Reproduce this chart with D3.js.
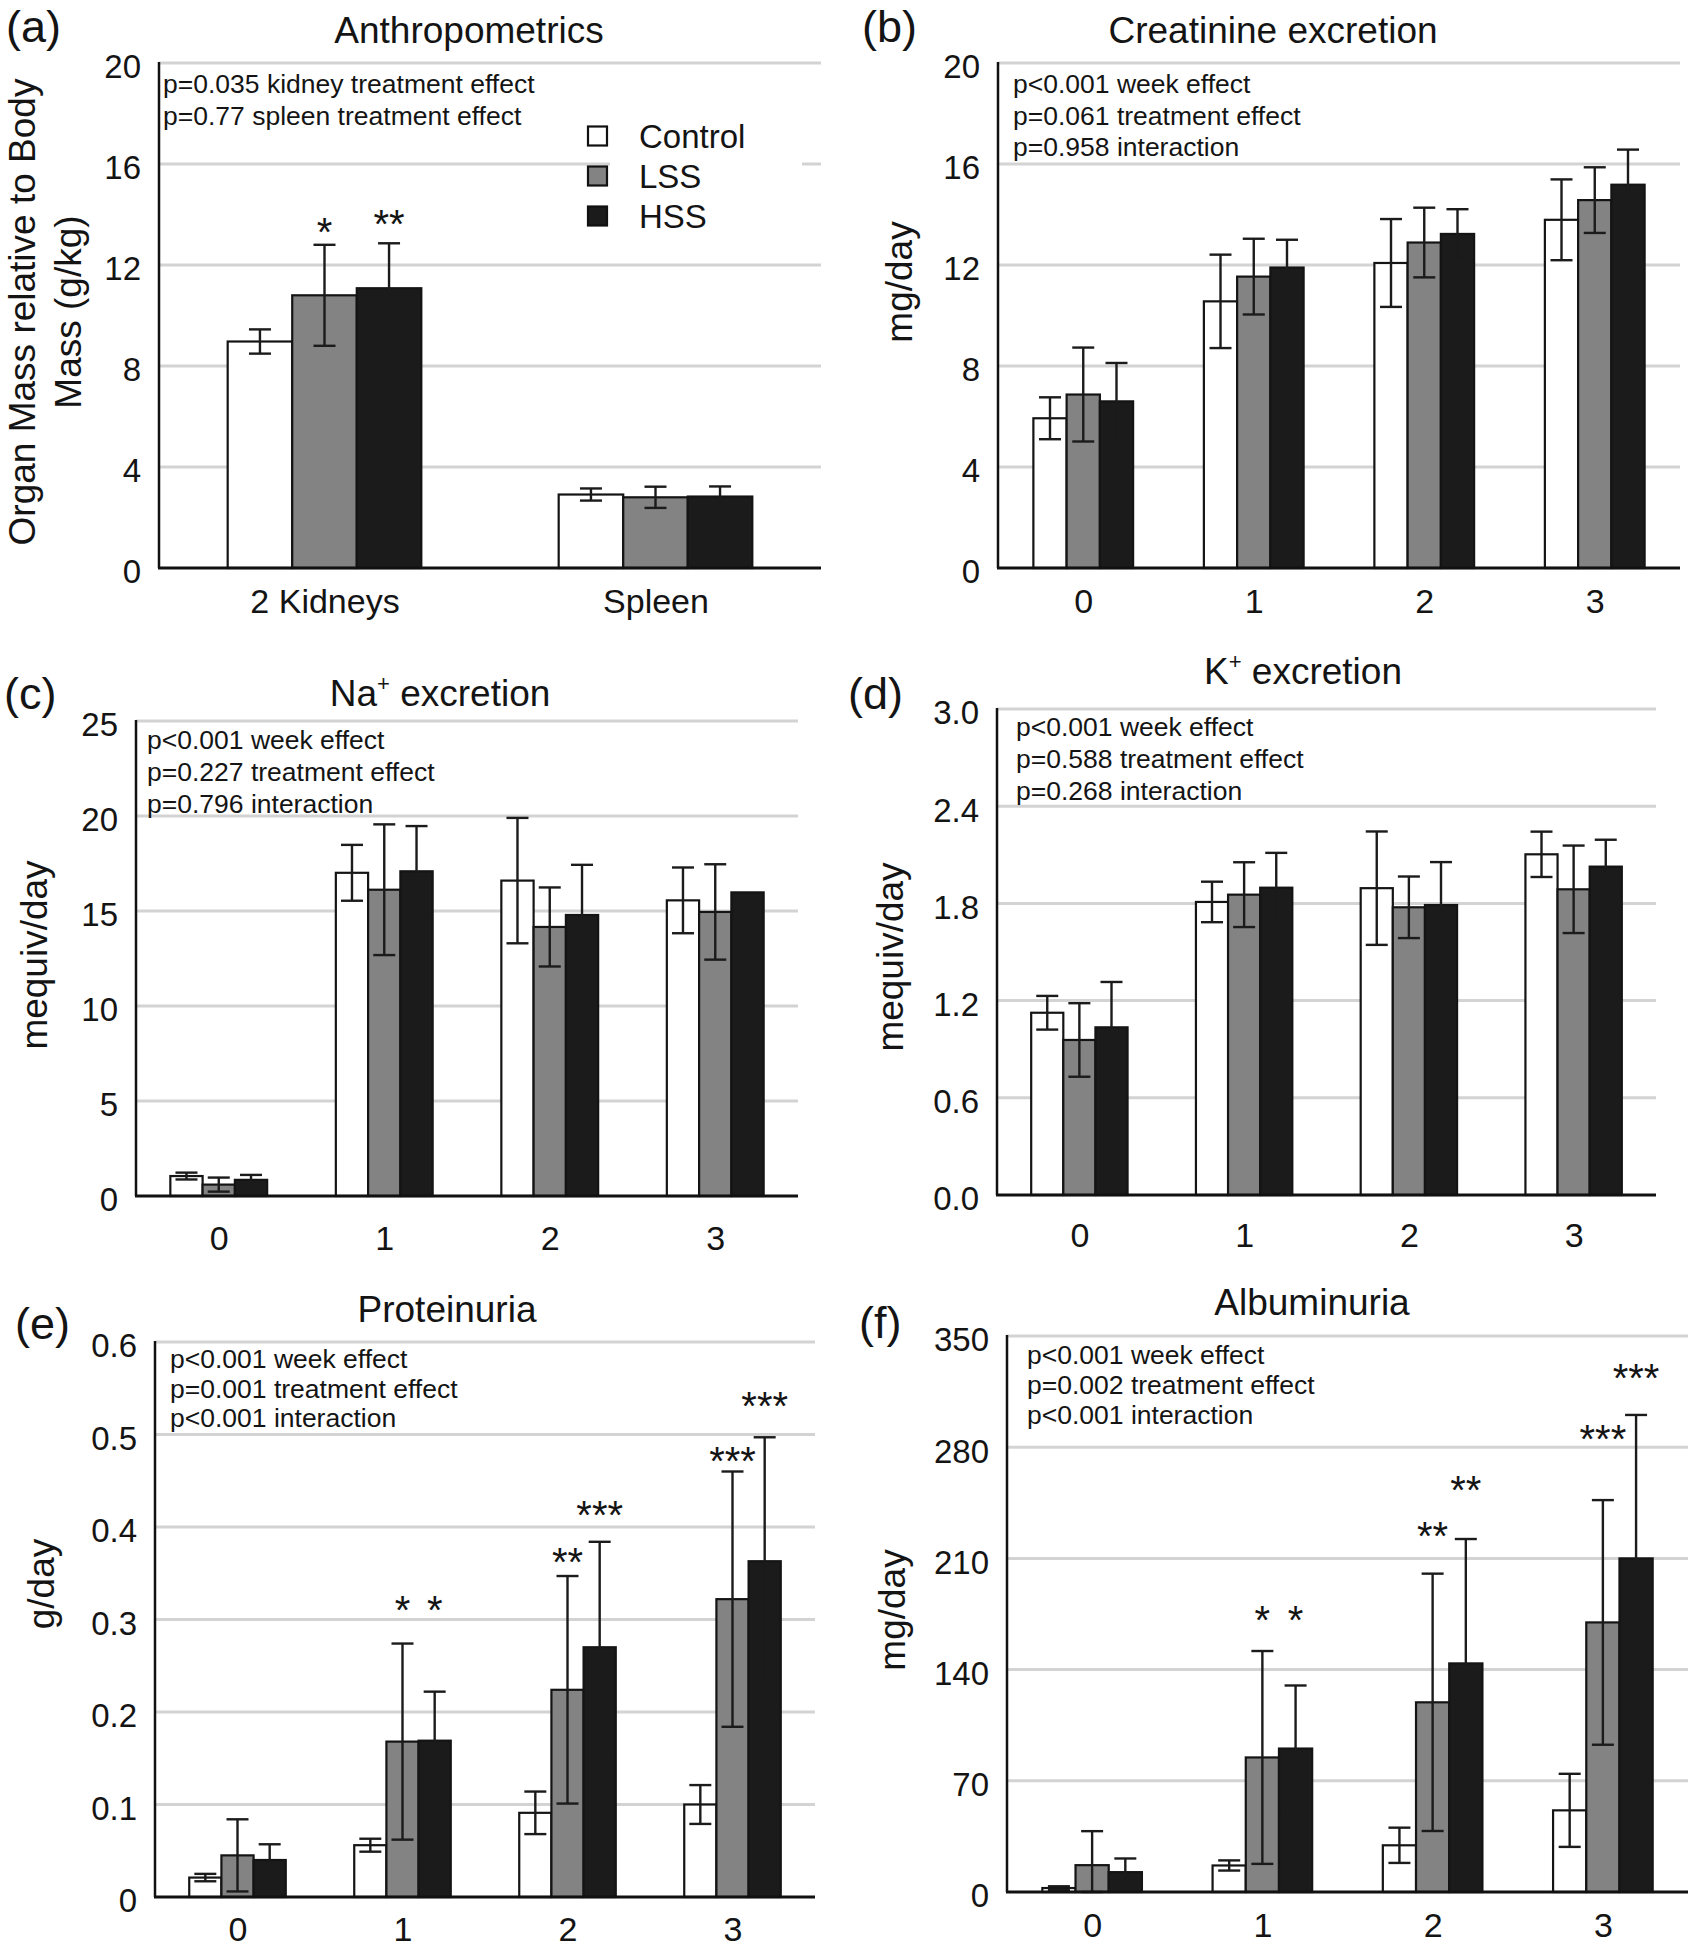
<!DOCTYPE html>
<html><head><meta charset="utf-8">
<script src="https://cdn.jsdelivr.net/npm/d3@7"></script>
<style>
body{margin:0;background:#fff}
svg{display:block}
text{font-family:"Liberation Sans",Arial,Helvetica,sans-serif;fill:#141414}
</style>
</head><body>
<svg id="chart" width="1695" height="1950"></svg>
<script>
// ---------- data ----------
const treatments = ["Control", "LSS", "HSS"];
const fills = ["#ffffff", "#838383", "#1b1b1b"];

// (a) Anthropometrics
const organCats = ["2 Kidneys", "Spleen"];
const organControl = [8.97, 2.91], organControlErr = [0.48, 0.24];
const organLSS = [10.8, 2.80], organLSSErr = [2.0, 0.42];
const organHSS = [11.08, 2.83], organHSSErr = [1.78, 0.40];
const organTicks = [0, 4, 8, 12, 16, 20];
const organStars = [{cat: "2 Kidneys", t: 1, v: 13.66, s: "*"}, {cat: "2 Kidneys", t: 2, v: 13.99, s: "**"}];
const organP = ["p=0.035 kidney treatment effect", "p=0.77 spleen treatment effect"];

const weeks = ["0", "1", "2", "3"];

// (b) Creatinine excretion
const creatControl = [5.93, 10.56, 12.08, 13.79], creatControlErr = [0.83, 1.85, 1.74, 1.60];
const creatLSS = [6.87, 11.54, 12.89, 14.57], creatLSSErr = [1.86, 1.50, 1.38, 1.30];
const creatHSS = [6.60, 11.90, 13.23, 15.18], creatHSSErr = [1.52, 1.10, 0.98, 1.39];
const creatTicks = [0, 4, 8, 12, 16, 20];
const creatP = ["p<0.001 week effect", "p=0.061 treatment effect", "p=0.958 interaction"];

// (c) Na+ excretion
const naControl = [1.05, 17.01, 16.60, 15.56], naControlErr = [0.18, 1.47, 3.30, 1.73];
const naLSS = [0.60, 16.12, 14.16, 14.95], naLSSErr = [0.37, 3.44, 2.08, 2.51];
const naHSS = [0.85, 17.09, 14.79, 15.98], naHSSErr = [0.26, 2.38, 2.64, null];
const naTicks = [0, 5, 10, 15, 20, 25];
const naP = ["p<0.001 week effect", "p=0.227 treatment effect", "p=0.796 interaction"];

// (d) K+ excretion
const kControl = [1.125, 1.809, 1.894, 2.103], kControlErr = [0.104, 0.125, 0.350, 0.140];
const kLSS = [0.957, 1.854, 1.776, 1.887], kLSSErr = [0.227, 0.200, 0.190, 0.270];
const kHSS = [1.035, 1.897, 1.790, 2.027], kHSSErr = [0.280, 0.215, 0.265, 0.166];
const kTicks = [0, 0.6, 1.2, 1.8, 2.4, 3.0];
const kP = ["p<0.001 week effect", "p=0.588 treatment effect", "p=0.268 interaction"];

// (e) Proteinuria
const protControl = [0.021, 0.056, 0.091, 0.100], protControlErr = [0.004, 0.007, 0.023, 0.021];
const protLSS = [0.045, 0.168, 0.224, 0.322], protLSSErr = [0.039, 0.106, 0.123, 0.138];
const protHSS = [0.040, 0.169, 0.270, 0.363], protHSSErr = [0.017, 0.053, 0.114, 0.134];
const protTicks = [0, 0.1, 0.2, 0.3, 0.4, 0.5, 0.6];
const protStars = [
  {cat: "1", t: 1, v: 0.320, s: "*"}, {cat: "1", t: 2, v: 0.320, s: "*"},
  {cat: "2", t: 1, v: 0.372, s: "**"}, {cat: "2", t: 2, v: 0.423, s: "***"},
  {cat: "3", t: 1, v: 0.481, s: "***"}, {cat: "3", t: 2, v: 0.541, s: "***"}];
const protP = ["p<0.001 week effect", "p=0.001 treatment effect", "p<0.001 interaction"];

// (f) Albuminuria
const albControl = [2.5, 16.7, 29.4, 51.4], albControlErr = [1.1, 3.2, 11.1, 23.0];
const albLSS = [16.9, 84.7, 119.4, 169.7], albLSSErr = [21.4, 67.0, 81.0, 77.0];
const albHSS = [12.5, 90.3, 143.9, 210.0], albHSSErr = [8.6, 39.7, 78.3, 90.3];
const albTicks = [0, 70, 140, 210, 280, 350];
const albStars = [
  {cat: "1", t: 1, v: 177, s: "*"}, {cat: "1", t: 2, v: 177, s: "*"},
  {cat: "2", t: 1, v: 230, s: "**"}, {cat: "2", t: 2, v: 259, s: "**"},
  {cat: "3", t: 1, v: 291, s: "***"}, {cat: "3", t: 2, v: 329, s: "***"}];
const albP = ["p<0.001 week effect", "p=0.002 treatment effect", "p<0.001 interaction"];

// ---------- layout ----------
const svg = d3.select("#chart");
const fmt1 = d => d === 0 ? "0" : d3.format(".1f")(d);
const fmtK = d => d3.format(".1f")(d);

const panels = [
  {letter: "(a)", lx: 6, ly: 42, title: ["Anthropometrics"], tx: 469, ty: 43,
   cats: organCats, means: [organControl, organLSS, organHSS], errs: [organControlErr, organLSSErr, organHSSErr],
   ticks: organTicks, fmt: d3.format("d"), x0: 159, x1: 821, yTop: 63, yBot: 568, catDy: 45,
   ylab: ["Organ Mass relative to Body", "Mass (g/kg)"], ylx: [35, 81], yly: 312,
   p: organP, px: 163, py: 93, pdy: 32, stars: organStars, legend: true},
  {letter: "(b)", lx: 862, ly: 42, title: ["Creatinine excretion"], tx: 1273, ty: 43,
   cats: weeks, means: [creatControl, creatLSS, creatHSS], errs: [creatControlErr, creatLSSErr, creatHSSErr],
   ticks: creatTicks, fmt: d3.format("d"), x0: 998, x1: 1680, yTop: 63, yBot: 568, catDy: 45,
   ylab: ["mg/day"], ylx: [912], yly: 282, p: creatP, px: 1013, py: 93, pdy: 31.5, stars: []},
  {letter: "(c)", lx: 4, ly: 709, title: ["Na", "+", " excretion"], tx: 440, ty: 706,
   cats: weeks, means: [naControl, naLSS, naHSS], errs: [naControlErr, naLSSErr, naHSSErr],
   ticks: naTicks, fmt: d3.format("d"), x0: 136, x1: 798, yTop: 721, yBot: 1196, catDy: 54,
   ylab: ["mequiv/day"], ylx: [47], yly: 955, p: naP, px: 147, py: 749, pdy: 32, stars: []},
  {letter: "(d)", lx: 848, ly: 709, title: ["K", "+", " excretion"], tx: 1303, ty: 684,
   cats: weeks, means: [kControl, kLSS, kHSS], errs: [kControlErr, kLSSErr, kHSSErr],
   ticks: kTicks, fmt: fmtK, x0: 997, x1: 1656, yTop: 709, yBot: 1195, catDy: 52,
   ylab: ["mequiv/day"], ylx: [903], yly: 957, p: kP, px: 1016, py: 736, pdy: 32, stars: []},
  {letter: "(e)", lx: 15, ly: 1339, title: ["Proteinuria"], tx: 447, ty: 1322,
   cats: weeks, means: [protControl, protLSS, protHSS], errs: [protControlErr, protLSSErr, protHSSErr],
   ticks: protTicks, fmt: fmt1, x0: 155, x1: 815, yTop: 1342, yBot: 1897, catDy: 44,
   ylab: ["g/day"], ylx: [54], yly: 1584, p: protP, px: 170, py: 1368, pdy: 29.5, stars: protStars},
  {letter: "(f)", lx: 859, ly: 1338, title: ["Albuminuria"], tx: 1312, ty: 1315,
   cats: weeks, means: [albControl, albLSS, albHSS], errs: [albControlErr, albLSSErr, albHSSErr],
   ticks: albTicks, fmt: d3.format("d"), x0: 1007, x1: 1688, yTop: 1336, yBot: 1892, catDy: 45,
   ylab: ["mg/day"], ylx: [905], yly: 1610, p: albP, px: 1027, py: 1364, pdy: 30, stars: albStars}
];

function drawPanel(cfg) {
  const g = svg.append("g");
  const x = d3.scalePoint().domain(cfg.cats).range([cfg.x0, cfg.x1]).padding(0.5);
  const y = d3.scaleLinear().domain([cfg.ticks[0], cfg.ticks[cfg.ticks.length - 1]]).range([cfg.yBot, cfg.yTop]);
  const barW = x.step() * 0.195;

  // gridlines
  g.append("g").selectAll("line").data(cfg.ticks.slice(1)).join("line")
    .attr("x1", cfg.x0).attr("x2", cfg.x1).attr("y1", d => y(d)).attr("y2", d => y(d))
    .attr("stroke", "#d3d3d3").attr("stroke-width", 3);

  // legend background (covers gridline like the original)
  if (cfg.legend) {
    g.append("rect").attr("x", 610).attr("y", 118).attr("width", 192).attr("height", 118).attr("fill", "#fff");
  }

  // bars
  treatments.forEach((t, i) => {
    const data = cfg.cats.map((c, j) => ({c, v: cfg.means[i][j], e: cfg.errs[i][j]}));
    const off = (i - 1.5) * barW;
    g.append("g").selectAll("rect").data(data).join("rect")
      .attr("x", d => x(d.c) + off).attr("width", barW)
      .attr("y", d => y(d.v)).attr("height", d => y(0) - y(d.v))
      .attr("fill", fills[i]).attr("stroke", "#141414").attr("stroke-width", 2.2);
    const eb = g.append("g").attr("stroke", "#1b1b1b").attr("stroke-width", 2.4);
    const ed = data.filter(d => d.e != null);
    const cx = d => x(d.c) + off + barW / 2;
    const lo = d => y(Math.max(0, d.v - d.e));
    const hi = d => y(d.v + d.e);
    eb.selectAll(".v").data(ed).join("line").attr("class", "v")
      .attr("x1", cx).attr("x2", cx).attr("y1", lo).attr("y2", hi);
    eb.selectAll(".t").data(ed).join("line").attr("class", "t")
      .attr("x1", d => cx(d) - 11).attr("x2", d => cx(d) + 11).attr("y1", hi).attr("y2", hi);
    eb.selectAll(".b").data(ed).join("line").attr("class", "b")
      .attr("x1", d => cx(d) - 11).attr("x2", d => cx(d) + 11).attr("y1", lo).attr("y2", lo);
  });

  // axes
  const ya = d3.axisLeft(y).tickValues(cfg.ticks).tickSize(0).tickPadding(18).tickFormat(cfg.fmt);
  const yg = g.append("g").attr("transform", `translate(${cfg.x0},0)`).call(ya);
  yg.select(".domain").remove();
  yg.selectAll("text").attr("font-size", 33).attr("dy", "0.45em").style("font-family", "'Liberation Sans',Arial,sans-serif").attr("fill", "#141414");

  const xa = d3.axisBottom(x).tickSize(0).tickPadding(cfg.catDy - 24);
  const xg = g.append("g").attr("transform", `translate(0,${cfg.yBot})`).call(xa);
  xg.select(".domain").remove();
  xg.selectAll("text").attr("font-size", 34).style("font-family", "'Liberation Sans',Arial,sans-serif").attr("fill", "#141414");

  g.append("line").attr("x1", cfg.x0).attr("x2", cfg.x0).attr("y1", cfg.yTop - 1).attr("y2", cfg.yBot)
    .attr("stroke", "#111").attr("stroke-width", 2.5);
  g.append("line").attr("x1", cfg.x0 - 1).attr("x2", cfg.x1).attr("y1", cfg.yBot).attr("y2", cfg.yBot)
    .attr("stroke", "#111").attr("stroke-width", 3);

  // stars
  const sfs = 40;
  g.selectAll(".star").data(cfg.stars).join("text").attr("class", "star")
    .attr("x", d => x(d.cat) + (d.t - 1.5) * barW + barW / 2)
    .attr("y", d => y(d.v) + 0.575 * sfs)
    .attr("text-anchor", "middle").attr("font-size", sfs).text(d => d.s);

  // p-values
  g.append("g").selectAll("text").data(cfg.p).join("text")
    .attr("x", cfg.px).attr("y", (d, i) => cfg.py + i * cfg.pdy)
    .attr("font-size", 26.5).text(d => d);

  // title
  const tt = g.append("text").attr("x", cfg.tx).attr("y", cfg.ty).attr("text-anchor", "middle").attr("font-size", 37);
  if (cfg.title.length === 1) tt.text(cfg.title[0]);
  else {
    tt.append("tspan").text(cfg.title[0]);
    tt.append("tspan").attr("font-size", 22).attr("dy", -15).text(cfg.title[1]);
    tt.append("tspan").attr("dy", 15).text(cfg.title[2]);
  }

  // panel letter
  g.append("text").attr("x", cfg.lx).attr("y", cfg.ly).attr("font-size", 45).text(cfg.letter);

  // y label
  cfg.ylab.forEach((lab, i) => {
    g.append("text").attr("transform", `translate(${cfg.ylx[i]},${cfg.yly}) rotate(-90)`)
      .attr("text-anchor", "middle").attr("font-size", 37).text(lab);
  });

  // legend
  if (cfg.legend) {
    const lg = g.append("g");
    treatments.forEach((t, i) => {
      const cy = 136 + i * 40;
      lg.append("rect").attr("x", 588).attr("y", cy - 9.5).attr("width", 19).attr("height", 19)
        .attr("fill", fills[i]).attr("stroke", "#111").attr("stroke-width", 2.2);
      lg.append("text").attr("x", 639).attr("y", cy + 12).attr("font-size", 33).text(t);
    });
  }
}

panels.forEach(drawPanel);
</script>
</body></html>
